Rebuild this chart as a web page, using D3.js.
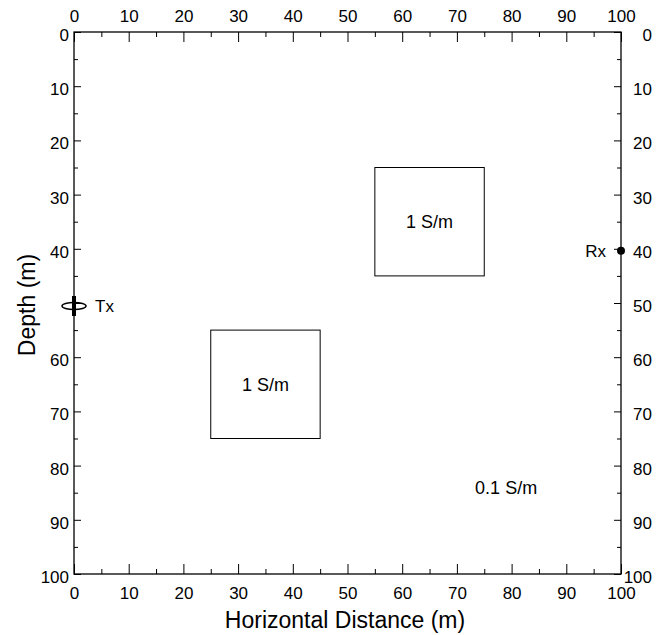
<!DOCTYPE html>
<html>
<head>
<meta charset="utf-8">
<script src="https://cdn.jsdelivr.net/npm/d3@7"></script>
<style>
body { margin: 0; background: #fff; }
text { font-family: "Liberation Sans", Arial, sans-serif; fill: #000; }
</style>
</head>
<body>
<svg id="chart"></svg>
<script>
var width = 672;
var height = 635;
var margin = {top: 32, right: 51, bottom: 61, left: 74};

// data
var xTicks = [0, 10, 20, 30, 40, 50, 60, 70, 80, 90, 100];
var yTicks = [0, 10, 20, 30, 40, 50, 60, 70, 80, 90, 100];
var minorTicks = [5, 15, 25, 35, 45, 55, 65, 75, 85, 95];
// conductive blocks: [x0, x1, depth0, depth1]
var blockX0 = [55, 25];
var blockX1 = [75, 45];
var blockD0 = [25, 55];
var blockD1 = [45, 75];
var blockLabels = ["1 S/m", "1 S/m"];
var background = {x: 79, d: 84, label: "0.1 S/m"};
var txPos = [0, 50];
var rxPos = [100, 40];

var svg = d3.select("#chart")
.attr("width", width)
.attr("height", height);

var x = d3.scaleLinear().domain([0, 100]).range([margin.left, width - margin.right]);
var y = d3.scaleLinear().domain([0, 100]).range([margin.top, height - margin.bottom]);

var g = svg.append("g");

// frame
g.append("rect")
.attr("x", x(0))
.attr("y", y(0))
.attr("width", x(100) - x(0))
.attr("height", y(100) - y(0))
.attr("fill", "none")
.attr("stroke", "#000")
.attr("stroke-width", 1.3);

function drawAxis (axis, transform, cls) {
	var a = g.append("g")
	.attr("class", cls)
	.attr("transform", transform)
	.call(axis);
	a.select(".domain").remove();
	a.selectAll("line").attr("stroke", "#000");
	a.selectAll("text").style("font-size", "17px");
	return a;
}

// major ticks, pointing inward
drawAxis(d3.axisTop(x).tickValues(xTicks).tickSizeInner(-10).tickPadding(10), "translate(0," + y(0) + ")", "top");
drawAxis(d3.axisBottom(x).tickValues(xTicks).tickSizeInner(-10).tickPadding(13), "translate(0," + y(100) + ")", "bottom");
// the Tx symbol takes the place of the left "50" label
var left = drawAxis(d3.axisLeft(y).tickValues(yTicks)
	.tickFormat(function (d) { return d == txPos[1] ? "" : d; })
	.tickSizeInner(-7).tickPadding(5), "translate(" + x(0) + ",0)", "left");
var right = drawAxis(d3.axisRight(y).tickValues(yTicks).tickSizeInner(-7).tickPadding(31), "translate(" + x(100) + ",0)", "right");
left.selectAll("text").attr("dy", "0.5em");
// right-hand labels are right-aligned
right.selectAll("text").attr("text-anchor", "end").attr("dy", "0.5em");

// minor ticks
drawAxis(d3.axisTop(x).tickValues(minorTicks).tickSizeInner(-5).tickFormat(""), "translate(0," + y(0) + ")", "top-minor");
drawAxis(d3.axisBottom(x).tickValues(minorTicks).tickSizeInner(-5).tickFormat(""), "translate(0," + y(100) + ")", "bottom-minor");
drawAxis(d3.axisLeft(y).tickValues(minorTicks).tickSizeInner(-4).tickFormat(""), "translate(" + x(0) + ",0)", "left-minor");
drawAxis(d3.axisRight(y).tickValues(minorTicks).tickSizeInner(-4).tickFormat(""), "translate(" + x(100) + ",0)", "right-minor");

// blocks
blockX0.forEach(function (x0, i) {
	g.append("rect")
	.attr("x", x(x0))
	.attr("y", y(blockD0[i]))
	.attr("width", x(blockX1[i]) - x(x0))
	.attr("height", y(blockD1[i]) - y(blockD0[i]))
	.attr("fill", "none")
	.attr("stroke", "#000")
	.attr("stroke-width", 1);

	g.append("text")
	.attr("x", x((x0 + blockX1[i]) / 2))
	.attr("y", y((blockD0[i] + blockD1[i]) / 2))
	.attr("text-anchor", "middle")
	.attr("dy", "0.35em")
	.style("font-size", "18px")
	.text(blockLabels[i]);
});

g.append("text")
.attr("x", x(background.x))
.attr("y", y(background.d))
.attr("text-anchor", "middle")
.attr("dy", "0.35em")
.style("font-size", "18px")
.text(background.label);

// transmitter loop
var tx = x(txPos[0]), ty = y(txPos[1]) + 3;
g.append("line")
.attr("x1", tx).attr("x2", tx)
.attr("y1", ty - 10).attr("y2", ty + 10)
.attr("stroke", "#000")
.attr("stroke-width", 4);
g.append("ellipse")
.attr("cx", tx)
.attr("cy", ty)
.attr("rx", 12)
.attr("ry", 3.5)
.attr("fill", "none")
.attr("stroke", "#000")
.attr("stroke-width", 1.5);
g.append("text")
.attr("x", tx + 21)
.attr("y", ty)
.attr("dy", "0.35em")
.style("font-size", "17px")
.text("Tx");

// receiver
var rx = x(rxPos[0]), ry = y(rxPos[1]) + 2;
g.append("circle")
.attr("cx", rx)
.attr("cy", ry)
.attr("r", 4)
.attr("fill", "#000");
g.append("text")
.attr("x", rx - 15)
.attr("y", ry)
.attr("dy", "0.35em")
.attr("text-anchor", "end")
.style("font-size", "17px")
.text("Rx");

// axis titles
g.append("text")
.attr("x", 345)
.attr("y", 628)
.attr("text-anchor", "middle")
.style("font-size", "23px")
.text("Horizontal Distance (m)");

g.append("text")
.attr("transform", "translate(35,305) rotate(-90)")
.attr("text-anchor", "middle")
.style("font-size", "23px")
.text("Depth (m)");
</script>
</body>
</html>
